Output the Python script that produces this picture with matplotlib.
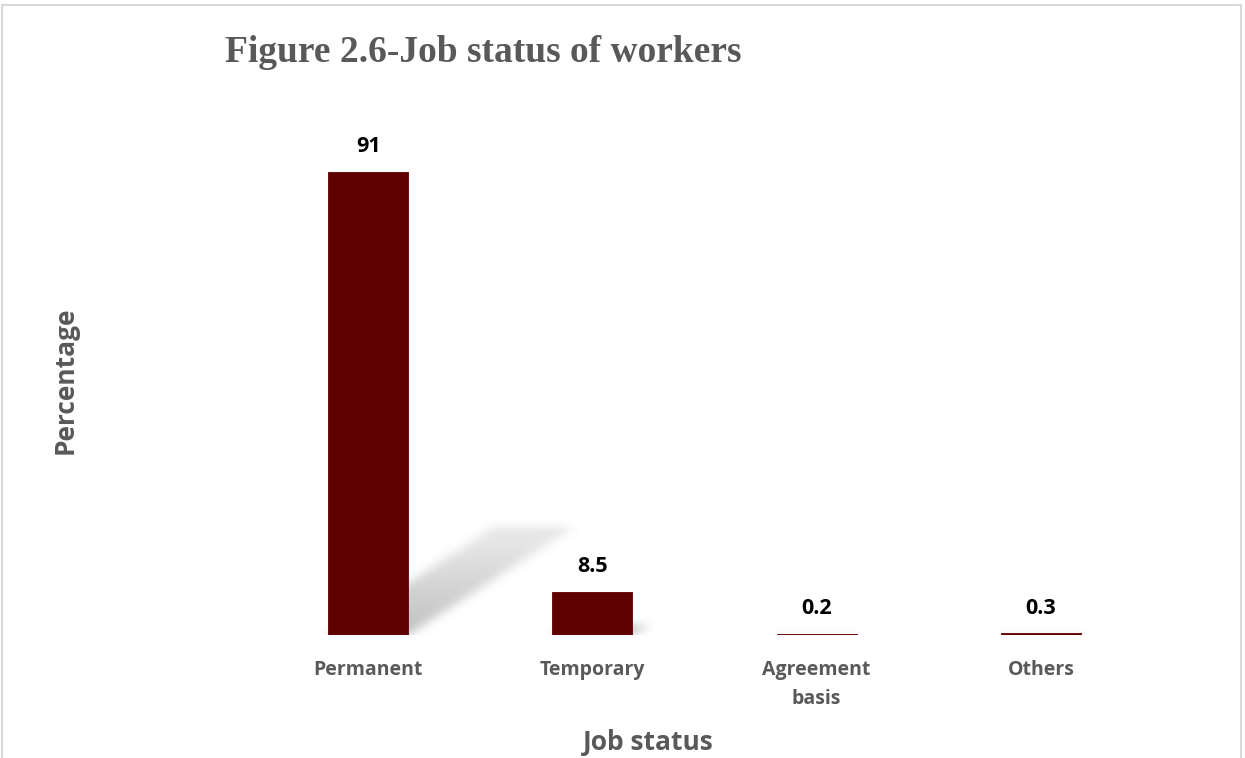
import numpy as np
import matplotlib
matplotlib.use("Agg")
import matplotlib.pyplot as plt
from matplotlib.patches import Rectangle

categories = ["Permanent", "Temporary", "Agreement\nbasis", "Others"]
percentages = [91, 8.5, 0.2, 0.3]

bar_color = "#600000"
text_gray = "#595959"
label_font = "Open Sans"

fig = plt.figure(figsize=(12.45, 7.58), dpi=100)
ax = fig.add_axes([0.2056, 0.1623, 0.7205, 0.6715])

x = np.arange(len(categories))
bar_w = 0.356
ax.bar(x, percentages, width=bar_w, color=bar_color, edgecolor=bar_color,
       linewidth=0.6, zorder=3)

# soft perspective shadow cast from each bar to the upper right
gx = np.linspace(-0.5, 3.5, 1000)
gy = np.linspace(0, 100, 500)
GX, GY = np.meshgrid(gx, gy)
mask = np.zeros_like(GX)
k = 0.233      # shadow height relative to bar
shift = 0.0081  # horizontal lean per unit of bar height
for xi, v in zip(x, percentages):
    h = v * k
    inside = (GY >= 0) & (GY <= h)
    off = shift * GY / k
    inside &= (GX >= xi - bar_w / 2 + off) & (GX <= xi + bar_w / 2 + off)
    mask[inside] = 1.0

def blur(a, sigma, axis):
    r = int(3 * sigma)
    t = np.arange(-r, r + 1)
    kern = np.exp(-t**2 / (2 * sigma**2))
    kern /= kern.sum()
    return np.apply_along_axis(lambda m: np.convolve(m, kern, mode="same"), axis, a)

mask = blur(mask, 7, 1)
mask = blur(mask, 4, 0)
# fade shadow toward its far end
fade = np.clip(1 - GY / 30, 0.4, 1)
rgba = np.zeros(mask.shape + (4,))
rgba[..., :3] = 0.55
rgba[..., 3] = mask * 0.55 * fade
ax.imshow(rgba, extent=(-0.5, 3.5, 0, 100), origin="lower", aspect="auto",
          interpolation="bilinear", zorder=2)

for xi, v in zip(x, percentages):
    ax.annotate(f"{v:g}", (xi, v), xytext=(0, 18), textcoords="offset points",
                ha="center", va="center", fontsize=15.5, fontweight="bold",
                family=label_font, color="black")

ax.set_xlim(-0.5, 3.5)
ax.set_ylim(0, 100)
ax.set_xticks(x)
ax.set_xticklabels(categories, fontsize=14, fontweight="bold", family=label_font,
                   color=text_gray, linespacing=1.6)
ax.tick_params(axis="x", length=0, pad=18)
ax.set_yticks([])
for s in ax.spines.values():
    s.set_visible(False)

fig.text(65 / 1245, 1 - 380 / 758, "Percentage", rotation=90, ha="center",
         va="center", fontsize=19, fontweight="bold", family=label_font, color=text_gray)
fig.text(648 / 1245, 1 - 742 / 758, "Job status", ha="center", va="center",
         fontsize=19, fontweight="bold", family=label_font, color=text_gray)
fig.text(225 / 1245, 1 - 52 / 758, "Figure 2.6-Job status of workers", ha="left",
         va="center", fontsize=27, fontweight="bold", family="Liberation Serif",
         color=text_gray)

# chart frame
fig.patches.append(Rectangle((2 / 1245, -0.1), 1239 / 1245, 1.1 - 5 / 758,
                             transform=fig.transFigure, fill=False,
                             edgecolor="#d9d9d9", linewidth=1.5))

fig.savefig("out.png", dpi=100)
